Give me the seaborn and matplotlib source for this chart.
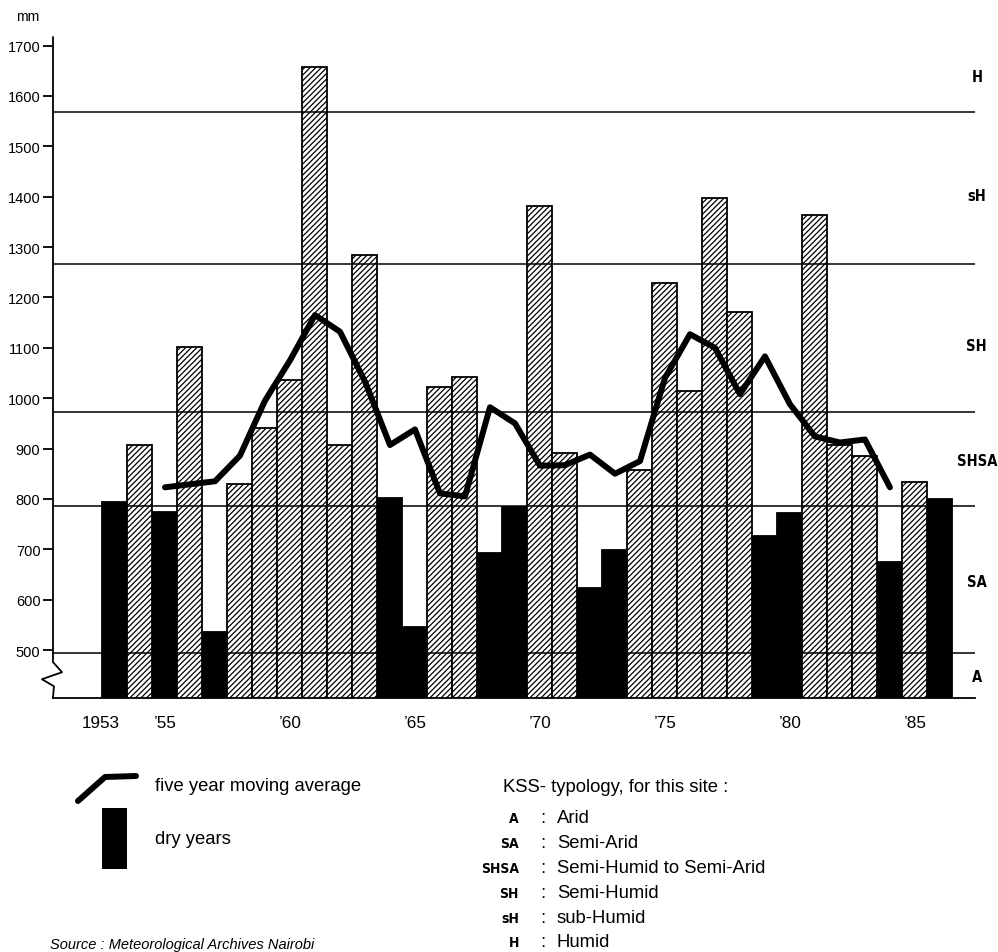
import numpy as np
import pandas as pd
import matplotlib
matplotlib.use("Agg")
import matplotlib.pyplot as plt
import matplotlib.transforms as mtransforms
from matplotlib.lines import Line2D
from matplotlib.patches import Rectangle
import seaborn as sns

# annual rainfall (mm), Nairobi 1953-1986
years = list(range(1953, 1987))
rain = [793, 907, 774, 1102, 535, 829, 940, 1036, 1658, 907,
        1285, 802, 546, 1023, 1043, 693, 784, 1382, 892, 623,
        699, 857, 1228, 1014, 1397, 1172, 726, 772, 1364, 907,
        886, 675, 833, 799]
dry_years = [1953, 1955, 1957, 1964, 1965, 1968, 1969, 1972, 1973, 1979, 1980, 1984, 1986]

# five year moving average
ma_years = list(range(1955, 1985))
ma_vals = [823, 829, 835, 886, 995, 1075, 1165, 1132, 1033, 907,
           938, 811, 805, 982, 950, 866, 867, 888, 850, 875,
           1040, 1127, 1100, 1008, 1083, 988, 924, 912, 918, 823]

# KSS typology zones
zone_bounds = [495, 785, 972, 1266, 1568]
zone_codes = ["A", "SA", "SHSA", "SH", "sH", "H"]
zone_names = ["Arid", "Semi-Arid", "Semi-Humid to Semi-Arid", "Semi-Humid", "sub-Humid", "Humid"]
zone_label_y = [448, 637, 877, 1104, 1403, 1638]

xtick_years = [1953, 1955, 1960, 1965, 1970, 1975, 1980, 1985]
xtick_labels = ["1953", "’55", "’60", "’65", "’70", "’75", "’80", "’85"]

sns.set_theme(style="white")
plt.rcParams["font.family"] = ["Liberation Sans", "DejaVu Sans"]
plt.rcParams["hatch.linewidth"] = 0.9
plt.rcParams["text.color"] = "black"

df = pd.DataFrame({"year": years, "rain": rain})
df["kind"] = np.where(df["year"].isin(dry_years), "dry", "wet")

fig = plt.figure(figsize=(9.98, 9.53), dpi=100)
ax = fig.add_axes([0.0531, 0.2665, 0.9238, 0.6936])

sns.barplot(data=df, x="year", y="rain", hue="kind",
            palette={"dry": "black", "wet": "white"}, saturation=1,
            native_scale=True, dodge=False, width=1.0, errorbar=None,
            edgecolor="black", linewidth=1.3, legend=False, ax=ax, zorder=2)
for bar in ax.patches:
    if bar.get_facecolor()[0] > 0.5:
        bar.set_hatch("//////")

for yb in zone_bounds:
    ax.axhline(yb, color="black", lw=1.1, zorder=3)

sns.lineplot(x=ma_years, y=ma_vals, color="black", linewidth=4.3, ax=ax, zorder=5)

ax.set_xlim(1950.52, 1987.4)
ax.set_ylim(404.7, 1717)

# left axis with break mark
trans = mtransforms.blended_transform_factory(ax.transAxes, ax.transData)
ax.plot([0, 0, 0.0098, -0.012, 0.001, 0.0], [1717, 476, 456, 442, 428, 404.7],
        transform=trans, color="black", lw=1.3, clip_on=False, zorder=6)

for s in ["top", "right", "left"]:
    ax.spines[s].set_visible(False)
ax.spines["bottom"].set_color("black")
ax.spines["bottom"].set_linewidth(1.3)

ax.set_yticks(range(500, 1800, 100))
ax.tick_params(axis="y", left=True, length=7, width=1.3, color="black",
               direction="out", labelsize=10.5, pad=2, labelcolor="black")
ax.set_xticks(xtick_years)
ax.set_xticklabels(xtick_labels)
ax.tick_params(axis="x", bottom=False, length=0, labelsize=12.3, pad=12, labelcolor="black")
first = ax.get_xticklabels()[0]
first.set_transform(first.get_transform() + mtransforms.ScaledTranslation(-0.14, 0, fig.dpi_scale_trans))
ax.set_xlabel("")
ax.set_ylabel("")

# zone labels at right
for code, yv in zip(zone_codes, zone_label_y):
    ax.text(1.002, yv, code, transform=trans, ha="center", va="center",
            fontsize=10.5, fontweight="bold", family="DejaVu Sans",
            fontstretch="condensed", clip_on=False)

fig.text(28 / 998, 1 - 17 / 953, "mm", ha="center", va="center", fontsize=10)

# legend, left part
W, H = 998, 953
fig.add_artist(Line2D([78 / W, 105 / W, 136 / W], [1 - 802 / H, 1 - 778 / H, 1 - 777 / H],
                      color="black", lw=4.3, transform=fig.transFigure))
fig.add_artist(Rectangle((101.7 / W, 1 - 870 / H), 25.6 / W, 61 / H,
                         facecolor="black", edgecolor="none", transform=fig.transFigure))
fig.text(155 / W, 1 - 787 / H, "five year moving average", ha="left", va="center", fontsize=13.3)
fig.text(155 / W, 1 - 840 / H, "dry years", ha="left", va="center", fontsize=13.3)
fig.text(50 / W, 1 - 945 / H, "Source : Meteorological Archives Nairobi",
         ha="left", va="center", fontsize=10.5, style="italic")

# legend, typology part
fig.text(503 / W, 1 - 788 / H, "KSS- typology, for this site :", ha="left", va="center", fontsize=13.3)
leg_y = [819, 844, 869, 894, 919, 943]
for code, name, yy in zip(zone_codes, zone_names, leg_y):
    fig.text(519 / W, 1 - yy / H, code, ha="right", va="center", fontsize=10,
             fontweight="bold", family="DejaVu Sans", fontstretch="condensed")
    fig.text(543 / W, 1 - yy / H, ":", ha="center", va="center", fontsize=13.3)
    fig.text(557 / W, 1 - yy / H, name, ha="left", va="center", fontsize=13.3)

fig.savefig("out.png", dpi=100)
